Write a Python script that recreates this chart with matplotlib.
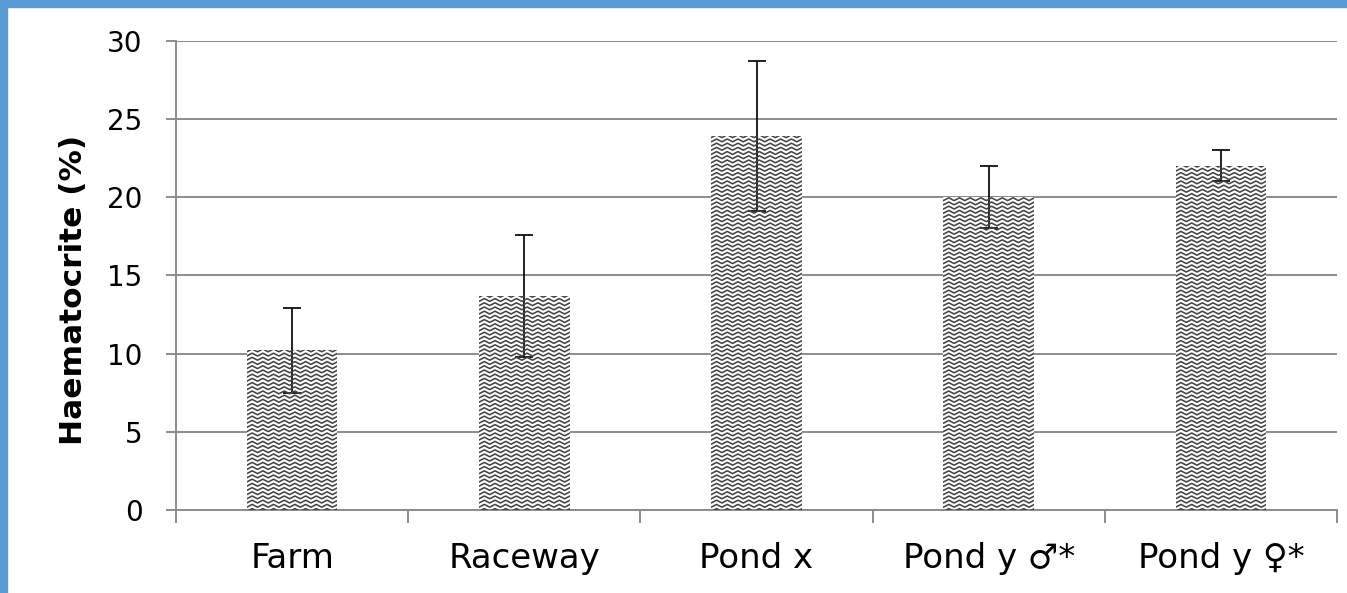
import numpy as np
import matplotlib
matplotlib.use('Agg')
import matplotlib.pyplot as plt
from matplotlib.lines import Line2D
from matplotlib.patches import Rectangle
from matplotlib.transforms import IdentityTransform

# haematocrite per group, mean and error
groups = ['Farm', 'Raceway', 'Pond x', 'Pond y \u2642*', 'Pond y \u2640*']
haematocrite = [10.2, 13.7, 23.9, 20.0, 22.0]
errors = [2.7, 3.9, 4.8, 2.0, 1.0]
yticks = [0, 5, 10, 15, 20, 25, 30]

GRID = '#8c8c8c'


def zigzag_fill(fig, ax, bar, period=10.7, step=4.2, amp=1.4):
    # wavy line texture inside a bar, drawn in pixel space and clipped to it
    (x0, y0), (x1, y1) = ax.transData.transform(
        [(bar.get_x(), 0), (bar.get_x() + bar.get_width(), bar.get_height())])
    xs = np.arange(x0 - period, x1 + period, period / 2.0)
    offs = np.where(np.arange(len(xs)) % 2 == 0, -amp, amp)
    y = y0 - step
    while y < y1 + step:
        ln = Line2D(xs, y + offs, color='#444444', lw=1.15,
                    transform=IdentityTransform(), zorder=2)
        ln.set_clip_path(bar)
        fig.add_artist(ln)
        y += step


def main():
    fig = plt.figure(figsize=(13.47, 5.93), dpi=100)
    ax = fig.add_axes([176 / 1347, 83 / 593, 1161 / 1347, 469.3 / 593])

    x = np.arange(len(groups))
    bars = ax.bar(x, haematocrite, width=0.39, color='white', edgecolor='none', zorder=1.5)
    ax.errorbar(x, haematocrite, yerr=errors, fmt='none', ecolor='#111111',
                elinewidth=1.3, capsize=6.5, capthick=1.3, zorder=3)

    ax.set_xlim(-0.5, len(groups) - 0.5)
    ax.set_ylim(0, 30)
    ax.set_yticks(yticks)
    ax.set_yticklabels([str(v) for v in yticks])
    ax.yaxis.grid(True, color=GRID, lw=1.4)
    ax.set_axisbelow(True)

    # category boundaries as major ticks, names on minor ticks
    ax.set_xticks(np.arange(-0.5, len(groups)))
    ax.set_xticklabels([])
    ax.set_xticks(x, minor=True)
    ax.set_xticklabels(groups, minor=True, fontsize=24.5)
    ax.tick_params(axis='x', which='major', direction='out', length=9, width=1.4, color=GRID)
    ax.tick_params(axis='x', which='minor', length=0, pad=23)
    ax.tick_params(axis='y', direction='out', length=7, width=1.4, color=GRID,
                   labelsize=20, pad=17)

    for side in ['top', 'right']:
        ax.spines[side].set_visible(False)
    for side in ['left', 'bottom']:
        ax.spines[side].set_color(GRID)
        ax.spines[side].set_linewidth(1.4)

    fig.text(74 / 1347, 1 - 290 / 593, 'Haematocrite (%)', rotation=90,
             ha='center', va='center', fontsize=22.5, fontweight='bold')

    for b in bars:
        zigzag_fill(fig, ax, b)

    # blue frame along top and left
    fig.add_artist(Rectangle((0, 1 - 7 / 593), 1, 7 / 593, transform=fig.transFigure,
                             color='#5b9bd5', zorder=10))
    fig.add_artist(Rectangle((0, 0), 7 / 1347, 1, transform=fig.transFigure,
                             color='#5b9bd5', zorder=10))

    fig.savefig('out.png', dpi=100)


if __name__ == '__main__':
    main()
